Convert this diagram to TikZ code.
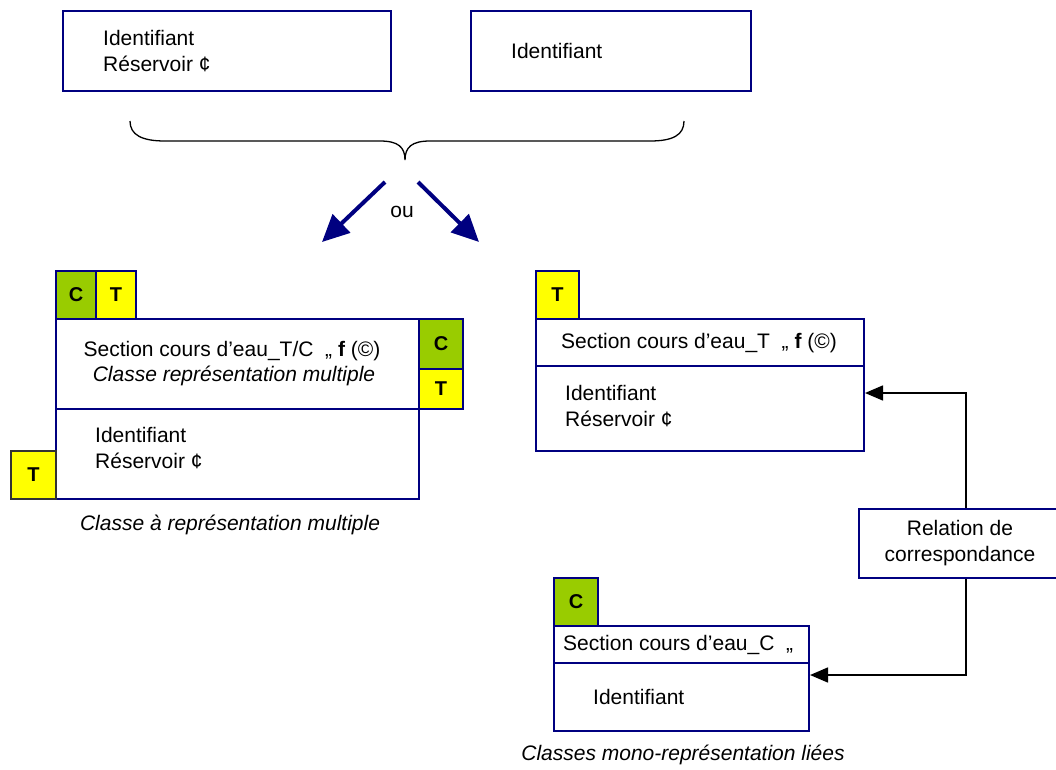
\documentclass[tikz,border=0pt]{standalone}
\usepackage{fontspec}
\setmainfont{Liberation Sans}
\usetikzlibrary{arrows.meta,calc}
\definecolor{navy}{RGB}{0,0,128}
\definecolor{cgreen}{RGB}{153,204,0}
\definecolor{tyellow}{RGB}{255,255,0}
\tikzset{
  box/.style={draw=navy,line width=2pt,inner sep=0pt,anchor=north west,fill=white},
  tabc/.style={box,fill=cgreen,font=\fontsize{20}{22}\selectfont\bfseries},
  tabt/.style={box,fill=tyellow,font=\fontsize{20}{22}\selectfont\bfseries},
  txt/.style={inner sep=0pt,font=\fontsize{21}{26}\selectfont,align=left},
  itxt/.style={inner sep=0pt,font=\fontsize{21}{26}\selectfont\itshape,align=center},
  conn/.style={draw=black,line width=1.5pt,-{Triangle[length=18pt,width=15pt]}},
  bigarrow/.style={draw=navy,line width=4pt,-{Triangle[length=27pt,width=25pt]}},
}
\begin{document}
\begin{tikzpicture}[x=1pt,y=-1pt]
\useasboundingbox (0,0) rectangle (1056,769);
% top boxes
\node[box,minimum width=328pt,minimum height=80pt] (top1) at (62,10) {};
\node[txt,anchor=north west] (top1t) at (103,30) {Identifiant\\Réservoir ¢};
\node[box,minimum width=280pt,minimum height=80pt] (top2) at (470,10) {};
\node[txt,anchor=west] (top2t) at (511,51) {Identifiant};
% brace
\draw[line width=1.3pt] (130,121) .. controls (130,135) and (142,141) .. (165,141) -- (380,141) .. controls (398,141) and (405,147) .. (405,160) .. controls (405,147) and (412,141) .. (430,141) -- (650,141) .. controls (673,141) and (684,135) .. (684,121);
% arrows
\coordinate (la) at (385,182);
\coordinate (lb) at (322,242);
\coordinate (ra) at (418,182);
\coordinate (rb) at (479,242);
\draw[bigarrow] (la) -- (lb);
\draw[bigarrow] (ra) -- (rb);
\node[txt] (ou) at (402,212) {ou};
% left multi-representation class
\node[tabc,minimum width=40pt,minimum height=48pt] (lc) at (55,270) {C};
\node[tabt,minimum width=40pt,minimum height=48pt] (lt) at (95,270) {T};
\node[box,minimum width=363pt,minimum height=90pt] (lhead) at (55,318) {};
\node[box,minimum width=363pt,minimum height=90pt] (lbody) at (55,408) {};
\node[tabc,minimum width=44pt,minimum height=50pt] (rc) at (418,318) {C};
\node[tabt,minimum width=44pt,minimum height=40pt] (rt) at (418,368) {T};
\node[tabt,draw=black!80,minimum width=45pt,minimum height=48pt] (bt) at (10,450) {T};
\node[txt,align=center] (lheadt) at (232,351) {Section cours d’eau\_T/C\; „ \textbf{f} (©)};
\node[itxt] (lheadi) at (234,376) {Classe représentation multiple};
\node[txt,anchor=north west] (lbodyt) at (95,427) {Identifiant\\Réservoir ¢};
\node[itxt] (lcap) at (230,525) {Classe à représentation multiple};
% right T class
\node[tabt,minimum width=43pt,minimum height=48pt] (tt) at (535,270) {T};
\node[box,minimum width=328pt,minimum height=47pt] (thead) at (535,318) {};
\node[box,minimum width=328pt,minimum height=85pt] (tbody) at (535,365) {};
\node[txt] (theadt) at (699,343) {Section cours d’eau\_T\; „ \textbf{f} (©)};
\node[txt,anchor=north west] (tbodyt) at (565,385) {Identifiant\\Réservoir ¢};
% C class
\node[tabc,minimum width=44pt,minimum height=48pt] (cc) at (553,577) {C};
\node[box,minimum width=255pt,minimum height=37pt] (chead) at (553,625) {};
\node[box,minimum width=255pt,minimum height=68pt] (cbody) at (553,662) {};
\node[txt,anchor=west] (cheadt) at (563,645) {Section cours d’eau\_C\; „};
\node[txt,anchor=west] (cbodyt) at (593,697) {Identifiant};
\node[itxt] (ccap) at (683,755) {Classes mono-représentation liées};
% relation
\node[box,minimum width=205pt,minimum height=69pt] (rel) at (858,508) {};
\node[txt,align=center] (relt) at (960,543) {Relation de\\correspondance};
\coordinate (vx) at (966,0);
\draw[conn] (rel.north -| vx) |- (tbody.east |- 0,393);
\draw[conn] (rel.south -| vx) |- (cbody.east |- 0,675);
\end{tikzpicture}
\end{document}
